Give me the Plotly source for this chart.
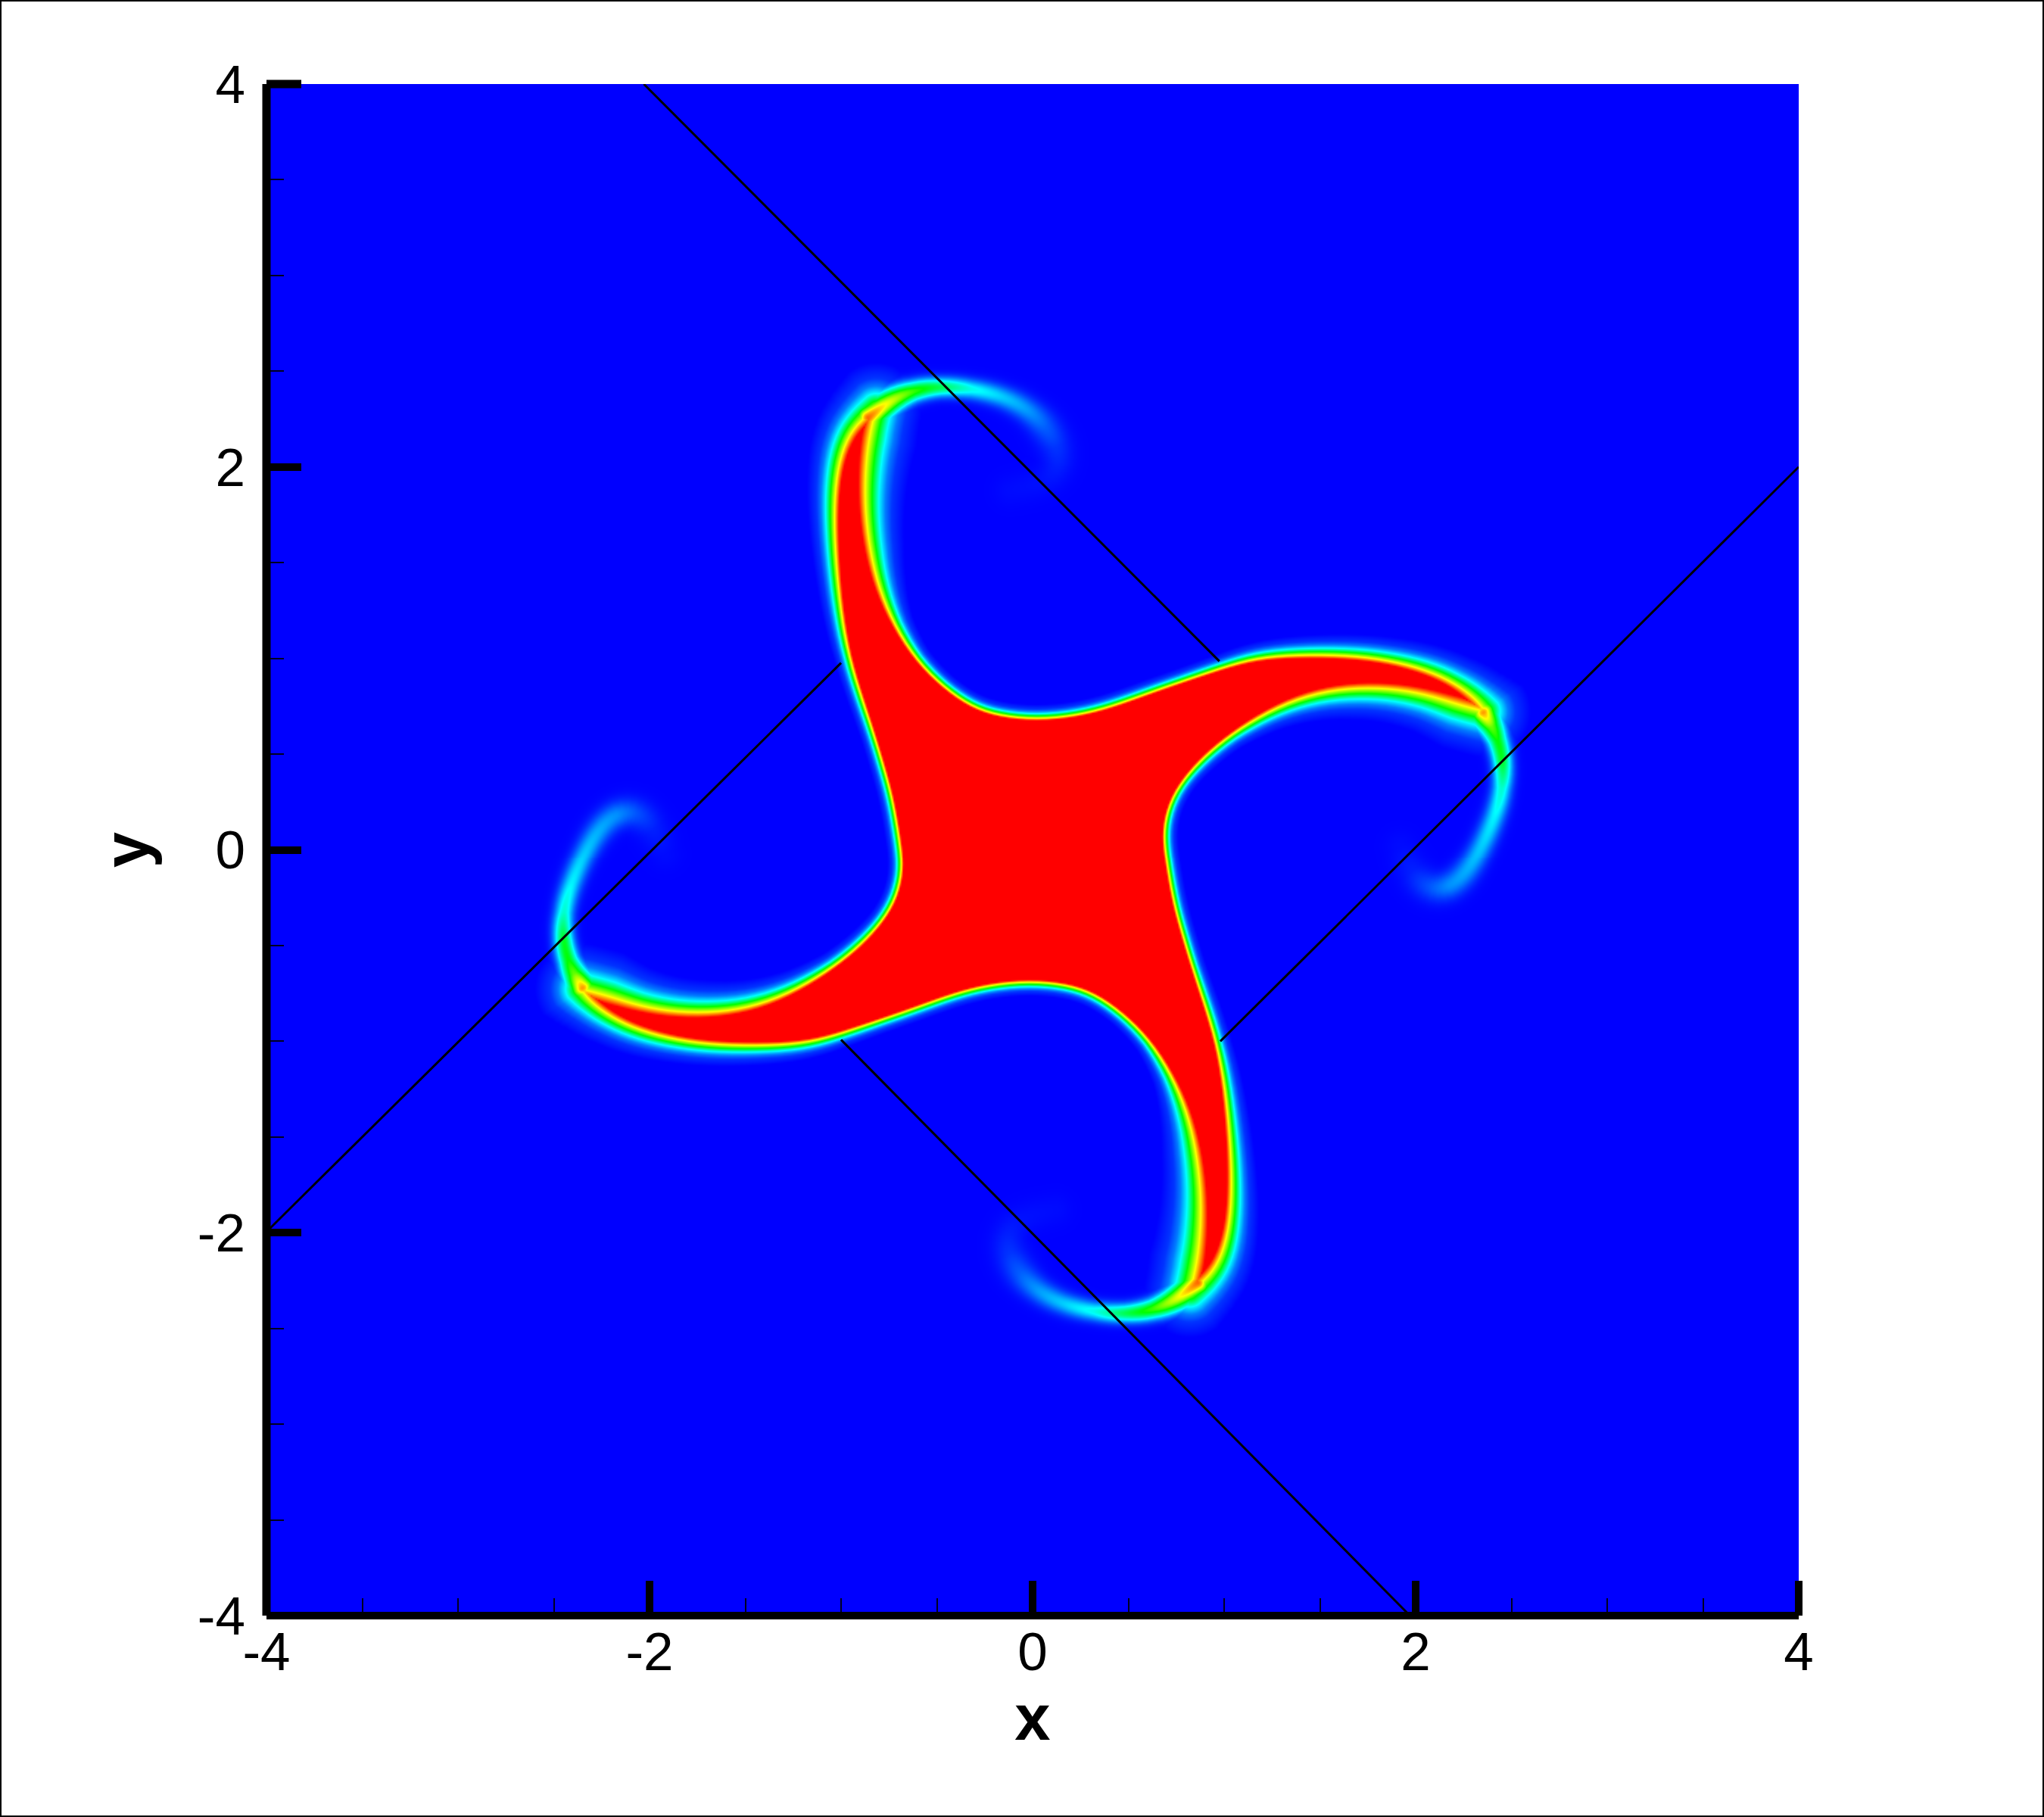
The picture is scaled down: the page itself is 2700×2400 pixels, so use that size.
import numpy as np
import plotly.graph_objects as go

# ---- values (data units) ----
# outline of the saturated body: top arm, then the right arm (other two arms are the 180-degree turn)
TOP_OUT_X = [-0.690,-0.715,-0.742,-0.777,-0.830,-0.891,-0.964,-1.004,-1.030,-1.040,-1.030,-0.990,-0.925,-0.819]
TOP_OUT_Y = [0.000,0.168,0.305,0.426,0.607,0.788,1.009,1.246,1.509,1.746,1.957,2.115,2.233,2.306]
TOP_OUT_S = [0.012,0.012,0.012,0.012,0.012,0.013,0.014,0.017,0.020,0.023,0.026,0.030,0.034,0.040]
TOP_IN_X = [-0.859,-0.878,-0.878,-0.852,-0.806,-0.727,-0.608,-0.463,-0.319,-0.186,0.016]
TOP_IN_Y = [2.168,1.957,1.773,1.562,1.364,1.180,0.983,0.851,0.745,0.705,0.680]
TOP_IN_S = [0.042,0.038,0.034,0.030,0.024,0.017,0.013,0.012,0.012,0.012,0.012]
RIGHT_UP_X = [0.237,0.414,0.590,0.767,1.000,1.161,1.369,1.646,1.854,2.062,2.200,2.325,2.360]
RIGHT_UP_Y = [0.705,0.751,0.819,0.879,0.958,1.009,1.022,1.022,0.996,0.943,0.877,0.785,0.726]
RIGHT_UP_S = [0.012,0.012,0.012,0.012,0.013,0.015,0.017,0.019,0.021,0.024,0.027,0.032,0.040]
RIGHT_LOW_X = [2.200,2.062,1.854,1.646,1.438,1.230,1.023,0.898,0.787,0.704,0.680]
RIGHT_LOW_Y = [0.765,0.818,0.851,0.851,0.818,0.732,0.601,0.495,0.377,0.245,0.087]
RIGHT_LOW_S = [0.040,0.034,0.030,0.027,0.023,0.018,0.014,0.013,0.012,0.012,0.012]

# faint curled tails: centre line, peak level, width
TOP_TAIL_X = [-0.859,-0.753,-0.622,-0.490,-0.319,-0.147,-0.016,0.076,0.129,0.136,0.076,-0.118]
TOP_TAIL_Y = [2.260,2.350,2.407,2.425,2.415,2.372,2.300,2.208,2.102,2.010,1.917,1.880]
TOP_TAIL_A = [0.90,0.72,0.55,0.42,0.27,0.20,0.15,0.09,0.05,0.03,0.015,0.01]
TOP_TAIL_W = [0.070,0.062,0.050,0.046,0.048,0.054,0.062,0.075,0.080,0.080,0.080,0.080]
RIGHT_TAIL_X = [2.353,2.401,2.422,2.457,2.457,2.415,2.339,2.270,2.173,2.062,1.979,1.920]
RIGHT_TAIL_Y = [0.719,0.640,0.589,0.482,0.324,0.179,0.008,-0.111,-0.209,-0.203,-0.124,0.020]
RIGHT_TAIL_A = [0.85,0.60,0.50,0.47,0.30,0.24,0.20,0.17,0.14,0.08,0.03,0.01]
RIGHT_TAIL_W = [0.070,0.062,0.052,0.048,0.048,0.052,0.056,0.062,0.068,0.075,0.080,0.080]

# straight black rays
RAY_X = [[-2.03,0.975],[0.98,4.0],[-1.0,1.97],[-4.0,-1.0]]
RAY_Y = [[4.0,0.985],[-1.0,2.0],[-0.992,-4.0],[-1.995,0.976]]

# axes
MAJOR_TICKS = [-4,-2,0,2,4]
TICK_LABELS = ["-4","-2","0","2","4"]
RAINBOW = [[0,"#0000ff"],[0.25,"#00ffff"],[0.5,"#00ff00"],[0.75,"#ffff00"],[1,"#ff0000"]]
PROFILE_T = [-1,0,1,2,3,4,6]
PROFILE_Z = [1,0.75,0.5,0.25,0.12,0.05,0]

# ---- field ----
def smooth(xs, ys, ss, n=4, passes=14):
    """Centripetal Catmull-Rom rendering of a read outline, low-passed to remove reading jitter."""
    P = np.column_stack([xs, ys])
    P = np.vstack([2*P[0]-P[1], P, 2*P[-1]-P[-2]])
    ss = np.asarray(ss, float)
    ox, oy, os_ = [P[1,0]], [P[1,1]], [ss[0]]
    for i in range(1, len(P)-2):
        p0, p1, p2, p3 = P[i-1], P[i], P[i+1], P[i+2]
        t0 = 0.0
        t1 = t0 + np.linalg.norm(p1-p0)**0.5
        t2 = t1 + np.linalg.norm(p2-p1)**0.5
        t3 = t2 + np.linalg.norm(p3-p2)**0.5
        for k in range(1, n+1):
            t = t1 + (t2-t1)*k/n
            a1 = (t1-t)/(t1-t0)*p0 + (t-t0)/(t1-t0)*p1
            a2 = (t2-t)/(t2-t1)*p1 + (t-t1)/(t2-t1)*p2
            a3 = (t3-t)/(t3-t2)*p2 + (t-t2)/(t3-t2)*p3
            b1 = (t2-t)/(t2-t0)*a1 + (t-t0)/(t2-t0)*a2
            b2 = (t3-t)/(t3-t1)*a2 + (t-t1)/(t3-t1)*a3
            c = (t2-t)/(t2-t1)*b1 + (t-t1)/(t2-t1)*b2
            ox.append(c[0]); oy.append(c[1])
            os_.append(ss[i-1] + (ss[i]-ss[i-1])*k/n)
    ox, oy = np.array(ox), np.array(oy)
    for _ in range(passes):
        ox[1:-1] = 0.25*ox[:-2] + 0.5*ox[1:-1] + 0.25*ox[2:]
        oy[1:-1] = 0.25*oy[:-2] + 0.5*oy[1:-1] + 0.25*oy[2:]
    return ox, oy, np.array(os_)

def nearest(px, py, X, Y):
    best = np.full(px.shape, np.inf); si = np.zeros(px.shape, int); su = np.zeros(px.shape)
    for i in range(len(X) - 1):
        dx, dy = X[i+1]-X[i], Y[i+1]-Y[i]
        u = np.clip(((px-X[i])*dx + (py-Y[i])*dy) / (dx*dx+dy*dy+1e-12), 0, 1)
        d2 = (px-X[i]-u*dx)**2 + (py-Y[i]-u*dy)**2
        m = d2 < best
        best[m] = d2[m]; si[m] = i; su[m] = u[m]
    return np.sqrt(best), si, su

def along(v, si, su):
    return v[si]*(1-su) + v[si+1]*su

def inside(px, py, X, Y):
    r = np.zeros(px.shape, bool)
    for i in range(len(X)-1):
        y0, y1 = Y[i], Y[i+1]
        if y0 == y1:
            continue
        c = (y0 > py) != (y1 > py)
        r[c] ^= px[c] < X[i] + (py[c]-y0)*(X[i+1]-X[i])/(y1-y0)
    return r

# two tip-to-tip edge runs, then their 180-degree turns
x1, y1, s1 = smooth(TOP_OUT_X[-1:]+TOP_IN_X+RIGHT_UP_X, TOP_OUT_Y[-1:]+TOP_IN_Y+RIGHT_UP_Y, TOP_OUT_S[-1:]+TOP_IN_S+RIGHT_UP_S)
x2, y2, s2 = smooth(RIGHT_UP_X[-1:]+RIGHT_LOW_X+[-v for v in TOP_OUT_X], RIGHT_UP_Y[-1:]+RIGHT_LOW_Y+[-v for v in TOP_OUT_Y], RIGHT_UP_S[-1:]+RIGHT_LOW_S+TOP_OUT_S)
ring_x = np.concatenate([x1, x2[1:], -x1[1:], -x2[1:]])
ring_y = np.concatenate([y1, y2[1:], -y1[1:], -y2[1:]])
ring_s = np.concatenate([s1, s2[1:], s1[1:], s2[1:]])

N = 1012
cell = 8.0 / N
gx = -4 + cell*(np.arange(N)+0.5)
gy = gx.copy()
GX, GY = np.meshgrid(gx, gy)
Z = np.zeros((N, N), dtype=np.float32)
mask = GX**2 + GY**2 < 3.1**2
px, py = GX[mask], GY[mask]

dist, si, su = nearest(px, py, ring_x, ring_y)
t = dist / along(ring_s, si, su)
t[inside(px, py, ring_x, ring_y)] *= -1
z = np.interp(t, PROFILE_T, PROFILE_Z)
for tx, ty, ta, tw in [(TOP_TAIL_X, TOP_TAIL_Y, TOP_TAIL_A, TOP_TAIL_W),
                       (RIGHT_TAIL_X, RIGHT_TAIL_Y, RIGHT_TAIL_A, RIGHT_TAIL_W)]:
    sx, sy, sa = smooth(tx, ty, ta)
    _, _, sw = smooth(tx, ty, tw)
    for k in (1, -1):
        d, i, u = nearest(px, py, k*sx, k*sy)
        z = np.maximum(z, along(sa, i, u) * np.exp(-(d/along(sw, i, u))**2))
Z[mask] = z

# ---- figure ----
W, H = 2700, 2400
L, R, T, B = 352, 2376, 111, 2134
PW, PH = R-L, B-T
fig = go.Figure()
fig.add_trace(go.Heatmap(x=gx, y=gy, z=Z, zmin=0, zmax=1, colorscale=RAINBOW,
                         showscale=False, zsmooth="best", hoverinfo="skip"))
for rx, ry in zip(RAY_X, RAY_Y):
    fig.add_trace(go.Scatter(x=rx, y=ry, mode="lines", line=dict(color="black", width=3),
                             showlegend=False, hoverinfo="skip"))

def pline(x0, y0, x1, y1, w):
    return dict(type="line", xref="paper", yref="paper", x0=x0, y0=y0, x1=x1, y1=y1,
                line=dict(color="black", width=w), layer="above")

axis = dict(range=[-4,4], tickmode="array", tickvals=MAJOR_TICKS, ticktext=TICK_LABELS,
            ticks="inside", ticklen=46, tickwidth=10, tickcolor="black",
            minor=dict(dtick=0.5, tick0=0, ticks="inside", ticklen=23, tickwidth=2, tickcolor="#000020"),
            showgrid=False, zeroline=False, showline=False,
            tickfont=dict(family="Liberation Sans", size=71, color="black"))
title_font = dict(family="Liberation Sans", size=85, color="black", weight="bold")
fig.update_layout(
    width=W, height=H, margin=dict(l=L, r=W-R, t=T, b=H-B, pad=0, autoexpand=False),
    paper_bgcolor="white", plot_bgcolor="#0000ff", showlegend=False,
    xaxis=dict(axis, title=dict(text="x", font=title_font, standoff=0), ticklabelstandoff=0),
    yaxis=dict(axis, title=dict(text="y", font=title_font, standoff=36), ticklabelstandoff=27),
    shapes=[
        dict(type="rect", xref="paper", yref="paper",
             x0=(1-L)/PW, x1=(W-1-L)/PW, y0=(B-H+1)/PH, y1=(B-1)/PH,
             line=dict(color="black", width=2), fillcolor="rgba(0,0,0,0)", layer="above"),
        pline(0, 0, 0, 1, 11),
        pline(0, 0, 1, 0, 10),
        pline(0, 1, 46/PW, 1, 11),
        pline(1, 0, 1, 46/PH, 10),
    ],
)
fig.write_html("out.html", config={"displayModeBar": False},
               post_script="document.body.style.margin='0';")
